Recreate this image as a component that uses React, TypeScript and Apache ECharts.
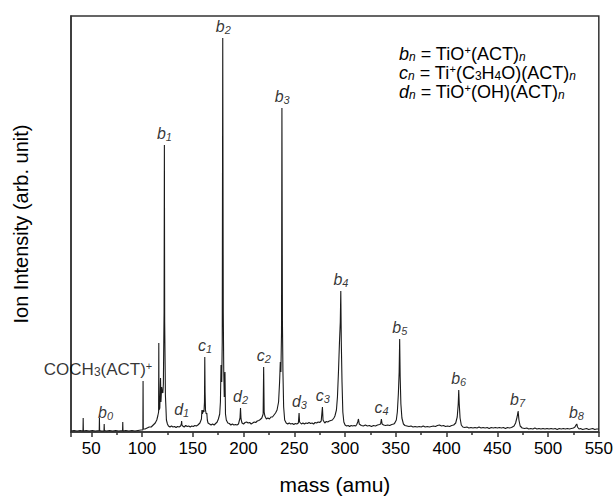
import React, { useEffect, useRef } from "react";
import * as echarts from "echarts";

// Spectrum trace: [mass (amu), ion intensity (arb. unit)]
const spectrum: [number, number][] = [
  [30, 1], [33, 1.5], [36, 1], [39, 1.5], [41.8, 1], [42, 14], [42.2, 1], [45, 1.5], [48, 1],
  [51, 1.5], [54, 1], [57.8, 1.5], [58, 14], [58.2, 1.5], [60, 1], [62.5, 1], [62.7, 8],
  [62.9, 1.5], [65, 1], [68, 1.5], [71, 1], [74, 1.5], [77, 1], [80.8, 1.5], [81, 10], [81.2, 1],
  [84, 1.5], [87, 1], [90, 1.5], [93, 1], [96, 1.5], [99, 2], [100.8, 2],
  [101, 51], [101.2, 3], [103, 3], [105, 4], [107, 5], [109, 5], [111, 7], [113, 9], [114.5, 12],
  [115.5, 16], [116.3, 20], [116.5, 89], [116.7, 22], [117.5, 24], [118.2, 54], [118.6, 30],
  [119.3, 45], [119.8, 40], [120.5, 39], [121, 48], [121.7, 120], [122, 287], [122.3, 110],
  [122.8, 60], [123, 37], [123.5, 25], [124, 12], [125, 8], [126, 6], [127.5, 5], [129, 6],
  [130.5, 5], [132, 5.5], [133.5, 4.5], [135, 5.5], [136.5, 5], [138, 6], [138.7, 8], [139, 11],
  [139.3, 7], [140, 6], [141.5, 5], [143, 6.5], [144.5, 5.5], [146, 6], [147.5, 5], [149, 6],
  [150.5, 5.5], [152, 6.5], [153.5, 6], [155, 7], [157, 9], [158.5, 13], [159, 22], [159.5, 18],
  [160.3, 22], [161, 20], [161.5, 30], [161.8, 75], [162.1, 40], [162.5, 22], [163.2, 18],
  [163.8, 19], [164.3, 12], [165, 9], [166.5, 8], [168, 7], [169.5, 8], [171, 7], [172.5, 8.5],
  [174, 10], [175.2, 13], [176.5, 18], [177.2, 30], [177.8, 67], [178.5, 50], [179, 90],
  [179.5, 394], [180, 120], [180.5, 60], [181, 35], [181.7, 60], [182.2, 18], [183, 12],
  [184.5, 9], [186, 8.5], [187.5, 7], [189, 8], [190.5, 7], [192, 7.5], [193.5, 7], [195, 8],
  [196.5, 14], [197, 24], [197.5, 13], [198.5, 9], [200, 8], [201.5, 9.5], [203, 10], [204.5, 9],
  [206, 9.5], [207.5, 8], [209, 9], [210.5, 10], [212, 9.5], [213.5, 11], [215, 11.5],
  [216.5, 12.5], [218, 14], [219.3, 18], [219.8, 65], [220.3, 20], [221, 16], [222.5, 13],
  [224, 14], [225.5, 13], [227, 15], [228.5, 15], [230, 17], [231.5, 19], [233, 22], [234.5, 30],
  [235.5, 50], [236.2, 70], [236.8, 60], [237.4, 100], [237.8, 324], [238.3, 110], [238.8, 60],
  [239.5, 25], [240.5, 12], [242, 9], [243.5, 8], [245, 9], [246.5, 8], [248, 8.5], [249.5, 7.5],
  [251, 8.5], [252.5, 8], [254, 9], [254.7, 19], [255.2, 10], [257, 8], [258.5, 9], [260, 8],
  [261.5, 9], [263, 8.5], [264.5, 9.5], [266, 8.5], [267.5, 9], [269, 8], [270.5, 9.5], [272, 9],
  [273.5, 10], [275, 9.5], [276.5, 11], [277.7, 25], [278.3, 12], [280, 9], [281.5, 10.5],
  [283, 10], [284.5, 11], [286, 11.5], [287.5, 12], [289, 14], [290, 16], [291.5, 22],
  [292.5, 35], [293.5, 60], [294.5, 90], [295.3, 110], [295.8, 141], [296.3, 90], [297, 50],
  [297.8, 20], [298.8, 10], [300, 7], [301.5, 6], [303, 6.5], [304.5, 5.5], [306, 6.5],
  [307.5, 6], [309, 6.5], [310.5, 6], [311.5, 7.5], [312.5, 10], [313.2, 13], [314, 8],
  [316, 6.5], [318, 6], [320, 7], [322, 6], [324, 6.5], [326, 5.5], [328, 6.5], [330, 6],
  [332, 7], [334, 7.5], [335, 8], [335.8, 13], [336.5, 8], [338, 7], [340, 6.5], [342, 7],
  [344, 6.5], [346, 7.5], [348, 8], [349, 9], [350.5, 12], [351.5, 20], [352.5, 38], [353.3, 60],
  [353.8, 93], [354.3, 55], [355, 28], [356, 14], [357.5, 8], [359, 6.5], [361, 6], [363, 5.5],
  [365, 6], [367, 5], [369, 5.5], [371, 5], [373, 5.5], [375, 5], [377, 6], [379, 5], [381, 5.5],
  [383, 5], [385, 5.5], [387, 6], [389, 5.5], [391, 6.5], [393, 7], [395, 6], [397, 6.5],
  [399, 5.5], [401, 6], [403, 5.5], [405, 6.5], [407, 7], [409, 9], [410.5, 15], [411.5, 28],
  [412, 42], [412.5, 28], [413.3, 14], [414.5, 7], [416, 5], [418, 4.5], [420, 5], [422, 4],
  [424, 4.5], [426, 4], [428, 4.5], [430, 4], [432, 5], [434, 4], [436, 4.5], [438, 4],
  [440, 4.5], [442, 3.5], [444, 4.5], [446, 4], [448, 4.5], [450, 4], [452, 4.5], [454, 4],
  [456, 4.5], [458, 3.5], [460, 4.5], [462, 4], [464, 4.5], [466.5, 6], [468, 9], [469.5, 15],
  [470.5, 21], [471.3, 12], [472.5, 6], [474.5, 4], [477, 3.5], [479, 4], [481, 3], [483, 3.5],
  [485, 3], [487, 4], [489, 3], [491, 3.5], [493, 3], [495, 3.5], [497, 3], [499, 3.5], [501, 3],
  [503, 3.5], [505, 3], [507, 3.5], [509, 2.5], [511, 3.5], [513, 3], [515, 3.5], [517, 3],
  [519, 3.5], [521, 3], [523, 3.5], [525, 4], [526.5, 5], [527.5, 7], [528.3, 8], [529, 5],
  [530.5, 3], [532, 3.5], [534, 2.5], [536, 3], [538, 3.5], [540, 2.5], [542, 3], [544, 3.5],
  [546, 2.5], [548, 3], [550, 3],
];

// Peak annotations
const peakLetters = ["b", "b", "b", "b", "b", "b", "b", "b", "b", "c", "c", "c", "c", "d", "d", "d"];
const peakIndex = ["0", "1", "2", "3", "4", "5", "6", "7", "8", "1", "2", "3", "4", "1", "2", "3"];
const peakMass = [64, 122, 180, 238, 296, 354, 412, 470, 528, 162, 220, 278, 336, 139, 197, 255];
const peakTop = [8, 287, 394, 324, 141, 93, 42, 21, 8, 75, 65, 25, 13, 11, 24, 19];

const fragmentMass = 101;
const fragmentTop = 51;

const X_MIN = 30;
const X_MAX = 550;
const Y_MAX = 416;

const FONT = "Liberation Sans, Arial, sans-serif";

export default function App() {
  const ref = useRef<HTMLDivElement>(null);

  useEffect(() => {
    if (!ref.current) return;
    const chart = echarts.init(ref.current, undefined, { renderer: "svg" });

    const peakData = peakMass.map((m, i) => ({
      value: [m, peakTop[i]],
      name: peakLetters[i] + "|" + peakIndex[i],
    }));

    const fragRich = {
      t: { fontFamily: FONT, fontSize: 17, color: "#000", lineHeight: 18 },
      sub: { fontFamily: FONT, fontSize: 12, color: "#000", verticalAlign: "bottom" },
      sup: { fontFamily: FONT, fontSize: 11, color: "#000", verticalAlign: "top" },
    };

    const legendRich = {
      bi: { fontFamily: FONT, fontSize: 18, fontStyle: "italic", color: "#000", lineHeight: 19 },
      si: { fontFamily: FONT, fontSize: 12, fontStyle: "italic", color: "#000", verticalAlign: "bottom" },
      t: { fontFamily: FONT, fontSize: 18, color: "#000", lineHeight: 19 },
      sub: { fontFamily: FONT, fontSize: 12, color: "#000", verticalAlign: "bottom" },
      sup: { fontFamily: FONT, fontSize: 11, color: "#000", verticalAlign: "top" },
    };

    const option: any = {
      animation: false,
      backgroundColor: "#fff",
      grid: {
        left: 71,
        top: 16,
        right: 13,
        bottom: 70,
        show: true,
        borderColor: "#333",
        borderWidth: 1.5,
        containLabel: false,
      },
      xAxis: {
        type: "value",
        min: X_MIN,
        max: X_MAX,
        splitNumber: 10,
        name: "mass (amu)",
        nameLocation: "middle",
        nameGap: 42,
        nameTextStyle: { fontFamily: FONT, fontSize: 21, color: "#000" },
        axisLine: { show: true, lineStyle: { color: "#333", width: 1.5 } },
        axisTick: { show: true, inside: false, length: 5, lineStyle: { color: "#333", width: 1.5 } },
        minorTick: { show: true, splitNumber: 2, length: 3, lineStyle: { color: "#333", width: 1.5 } },
        axisLabel: {
          fontFamily: FONT,
          fontSize: 17,
          color: "#000",
          margin: 8,
          showMinLabel: false,
        },
        splitLine: { show: false },
      },
      yAxis: {
        type: "value",
        min: 0,
        max: Y_MAX,
        name: "Ion Intensity (arb. unit)",
        nameLocation: "middle",
        nameGap: 40,
        nameTextStyle: { fontFamily: FONT, fontSize: 20, color: "#000" },
        axisLine: { show: true, lineStyle: { color: "#333", width: 1.5 } },
        axisTick: { show: false },
        axisLabel: { show: false },
        splitLine: { show: false },
      },
      series: [
        {
          type: "line",
          data: spectrum,
          showSymbol: false,
          symbol: "none",
          lineStyle: { color: "#1a1a1a", width: 1.1 },
          silent: true,
          z: 2,
        },
        {
          type: "scatter",
          data: peakData,
          symbolSize: 0,
          silent: true,
          z: 3,
          label: {
            show: true,
            position: "top",
            distance: 3,
            formatter: (p: any) => {
              const [l, s] = String(p.name).split("|");
              return "{m|" + l + "}{s|" + s + "}";
            },
            rich: {
              m: { fontFamily: FONT, fontSize: 16, fontStyle: "italic", color: "#000", lineHeight: 18 },
              s: { fontFamily: FONT, fontSize: 11, fontStyle: "italic", color: "#000", verticalAlign: "bottom" },
            },
          },
        },
        {
          type: "scatter",
          data: [[fragmentMass, fragmentTop]],
          symbolSize: 0,
          silent: true,
          z: 3,
          label: {
            show: true,
            position: "top",
            distance: 3,
            offset: [-45, 0],
            formatter: () => "{t|COCH}{sub|3}{t|(ACT)}{sup|+}",
            rich: fragRich,
          },
        },
      ],
      graphic: [
        {
          type: "text",
          left: 399,
          top: 44,
          silent: true,
          style: {
            text:
              "{bi|b}{si|n}{t| = TiO}{sup|+}{t|(ACT)}{si|n}\n" +
              "{bi|c}{si|n}{t| = Ti}{sup|+}{t|(C}{sub|3}{t|H}{sub|4}{t|O)(ACT)}{si|n}\n" +
              "{bi|d}{si|n}{t| = TiO}{sup|+}{t|(OH)(ACT)}{si|n}",
            rich: legendRich,
            fill: "#000",
          },
        },
      ],
    };

    chart.setOption(option);
    return () => chart.dispose();
  }, []);

  return (
    <div
      ref={ref}
      style={{ position: "absolute", left: 0, top: 0, width: 616, height: 502 }}
    />
  );
}
